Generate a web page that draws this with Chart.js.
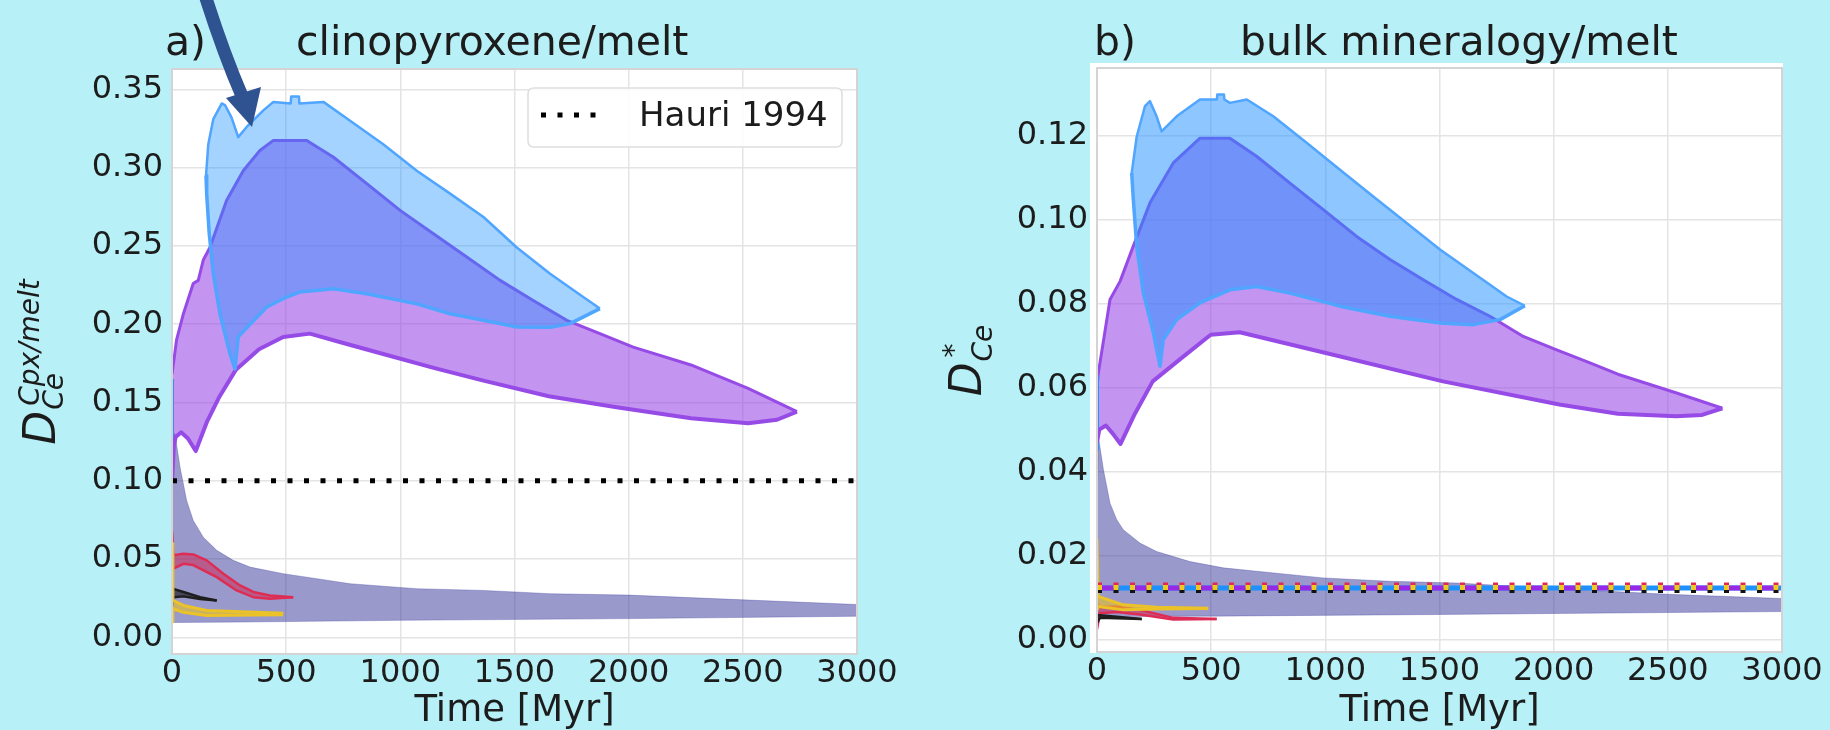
<!DOCTYPE html>
<html><head><meta charset="utf-8">
<script src="https://cdn.jsdelivr.net/npm/chart.js@4.4.1/dist/chart.umd.min.js"></script>
<style>
html,body{margin:0;padding:0;background:#b7f0f6;}
#wrap{position:relative;width:1830px;height:730px;overflow:hidden;background:#b7f0f6;}
.panel{position:absolute;top:0;width:915px;height:730px;}
canvas{display:block;}
</style></head><body>
<div id="wrap">
<div class="panel" style="left:0"><canvas id="ca" width="915" height="730"></canvas></div>
<div class="panel" style="left:915px"><canvas id="cb" width="915" height="730"></canvas></div>
</div>
<script>
// ---------- tick labels ----------
const timeTicks = [0, 500, 1000, 1500, 2000, 2500, 3000];
const cpxTicks = [0, 0.05, 0.10, 0.15, 0.20, 0.25, 0.30, 0.35];
const bulkTicks = [0, 0.02, 0.04, 0.06, 0.08, 0.10, 0.12];

// ---------- panel a: clinopyroxene/melt ----------
const cpxBlueUpT = [149,159,181,218,232,261,290,327,400,444,520,522,556,558,663,780,925,1072,1218,1364,1510,1656,1801,1874];
const cpxBlueUpD = [0.295,0.315,0.331,0.341,0.340,0.332,0.3195,0.326,0.3366,0.342,0.341,0.3455,0.3455,0.341,0.342,0.330,0.315,0.298,0.2834,0.2685,0.249,0.2323,0.2174,0.210];
const cpxBlueLoT = [149,152,163,181,210,254,276,290,342,415,502,561,706,853,1072,1218,1364,1510,1656,1743,1874];
const cpxBlueLoD = [0.295,0.283,0.258,0.232,0.2067,0.181,0.1715,0.192,0.200,0.211,0.2174,0.2206,0.2227,0.2195,0.213,0.2067,0.2025,0.1982,0.198,0.2004,0.210];
const cpxBlueStartT = [0, 0];
const cpxBlueStartD = [0.10, 0.165];

const cpxPurpUpT = [0,20,50,93,115,137,166,239,312,385,444,517,590,706,853,999,1145,1291,1437,1582,1729,1874,2020,2273,2523,2737];
const cpxPurpUpD = [0.168,0.19,0.2067,0.226,0.228,0.241,0.249,0.279,0.298,0.311,0.3174,0.3174,0.3174,0.3068,0.2898,0.2727,0.2578,0.2429,0.228,0.2152,0.2025,0.194,0.1854,0.174,0.159,0.1442];
const cpxPurpLoT = [0,8,16,40,70,104,154,205,280,381,487,604,750,925,1150,1364,1650,1947,2273,2523,2650,2737];
const cpxPurpLoD = [0.0996,0.122,0.128,0.131,0.127,0.119,0.138,0.153,0.171,0.184,0.1918,0.194,0.188,0.181,0.172,0.164,0.154,0.147,0.140,0.1367,0.139,0.1442];

const cpxGreyUpT = [0,8,13,35,64,93,137,196,268,342,487,634,780,1072,1364,1656,2000,2500,3000];
const cpxGreyUpD = [0.100,0.130,0.130,0.1088,0.0875,0.0747,0.064,0.0556,0.0492,0.0449,0.0407,0.0375,0.0343,0.0311,0.030,0.0279,0.027,0.024,0.021];
const cpxGreyLoT = [0,300,1000,2000,3000];
const cpxGreyLoD = [0.0095,0.0098,0.0109,0.012,0.0135];

const cpxRedUpT = [0,6,50,93,152,225,298,356,429,531];
const cpxRedUpD = [0.068,0.0524,0.0534,0.053,0.0492,0.0407,0.0332,0.029,0.0268,0.0257];
const cpxRedLoT = [0,6,50,93,196,283,356,429,531];
const cpxRedLoD = [0.043,0.0439,0.047,0.0462,0.0385,0.030,0.0257,0.0247,0.0257];

const cpxBlackUpT = [0,6,50,123,196];
const cpxBlackUpD = [0.033,0.031,0.029,0.0257,0.0236];
const cpxBlackLoT = [0,6,50,123,196];
const cpxBlackLoD = [0.020,0.0257,0.0262,0.0245,0.0236];

const cpxYellowUpT = [0,4,50,152,487];
const cpxYellowUpD = [0.060,0.0236,0.0204,0.0172,0.0155];
const cpxYellowLoT = [0,4,50,152,487];
const cpxYellowLoD = [0.010,0.0183,0.016,0.014,0.0145];

const hauriT = [0, 3000];
const hauriD = [0.10, 0.10];

// ---------- panel b: bulk mineralogy/melt ----------
const bulkBlueUpT = [152,174,210,232,261,283,349,451,525,527,556,558,582,656,772,918,1064,1210,1356,1502,1648,1794,1874];
const bulkBlueUpD = [0.1111,0.1198,0.127,0.1282,0.1246,0.121,0.1246,0.1286,0.1286,0.1298,0.1298,0.1286,0.1278,0.1286,0.1246,0.1183,0.1119,0.1055,0.0992,0.0929,0.0873,0.0817,0.0795];
const bulkBlueLoT = [152,159,174,203,247,276,290,349,451,582,699,845,1064,1283,1502,1648,1765,1874];
const bulkBlueLoD = [0.1111,0.1048,0.0936,0.0825,0.073,0.0651,0.0714,0.0762,0.0802,0.0833,0.0841,0.0825,0.0794,0.077,0.0754,0.075,0.0762,0.0795];
const bulkBlueStartT = [0, 0];
const bulkBlueStartD = [0.045, 0.063];

const bulkPurpUpT = [0,6,57,101,159,232,334,451,582,699,845,991,1137,1283,1429,1575,1721,1867,2013,2159,2281,2535,2739];
const bulkPurpUpD = [0.060,0.0635,0.081,0.0853,0.0937,0.104,0.1135,0.1194,0.1194,0.1151,0.1087,0.1024,0.096,0.0905,0.0857,0.081,0.077,0.0722,0.069,0.0659,0.0632,0.0588,0.0551];
const bulkPurpLoT = [0,10,39,70,103,166,244,371,498,625,1007,1515,2025,2281,2535,2650,2739];
const bulkPurpLoD = [0.047,0.050,0.051,0.049,0.0466,0.0538,0.0615,0.0671,0.0726,0.0732,0.0682,0.0615,0.056,0.0538,0.0532,0.0535,0.0551];

const bulkGreyUpT = [0,6,28,57,86,115,188,261,407,553,699,991,1283,1575,2000,2500,3000];
const bulkGreyUpD = [0.030,0.0484,0.0405,0.0325,0.0286,0.0262,0.023,0.021,0.0186,0.0171,0.0163,0.0147,0.0139,0.0135,0.0122,0.0108,0.0098];
const bulkGreyLoT = [0,10,500,1500,3000];
const bulkGreyLoD = [0.004,0.0055,0.0056,0.006,0.0067];

const bulkRedUpT = [0,13,86,188,334,524];
const bulkRedUpD = [0.0085,0.0078,0.0079,0.0071,0.0052,0.0049];
const bulkRedLoT = [0,13,86,188,334,524];
const bulkRedLoD = [0.0025,0.0063,0.0066,0.006,0.0048,0.0049];

const bulkBlackUpT = [0,13,196];
const bulkBlackUpD = [0.0058,0.0058,0.0049];
const bulkBlackLoT = [0,13,196];
const bulkBlackLoD = [0.004,0.0052,0.0049];

const bulkYellowUpT = [0,5,115,261,487];
const bulkYellowUpD = [0.024,0.0103,0.0083,0.0077,0.0075];
const bulkYellowLoT = [0,5,115,261,487];
const bulkYellowLoD = [0.007,0.0079,0.0071,0.0073,0.0074];

// reference bulk D levels (horizontal lines)
const bulkRefT = [0, 3000];
const bulkRefBlue = [0.0123, 0.0123];
const bulkRefPurple = [0.0123, 0.0123];
const bulkRefRed = [0.0130, 0.0130];
const bulkRefYellow = [0.01243, 0.01243];
const bulkRefBlack = [0.01174, 0.01174];

// ---------- helpers ----------
const P = (T, D) => T.map((t, i) => ({x: t, y: D[i]}));
function band(upT, upD, loT, loD, fillC, edgeC, wUp, wLo, order) {
  return [
    {data: P(upT, upD), borderColor: edgeC, borderWidth: wUp, backgroundColor: fillC, fill: '+1', order: order},
    {data: P(loT, loD), borderColor: edgeC, borderWidth: wLo, backgroundColor: fillC, fill: false, order: order - 0.5}
  ];
}
function hline(T, D, color, w, dash, order) {
  return {data: P(T, D), borderColor: color, borderWidth: w, borderDash: dash, borderCapStyle: 'butt', fill: false, order: order};
}

const C = {
  blueEdge: 'rgb(80,165,255)', purpEdge: 'rgb(150,75,230)', purpFill: 'rgba(148,60,230,0.55)',
  grey: 'rgba(51,51,153,0.5)', redEdge: 'rgb(222,45,85)', redFill: 'rgba(220,20,60,0.45)',
  blackEdge: '#1e1e1e', blackFill: 'rgba(20,20,20,0.6)', yelEdge: 'rgb(235,195,40)', yelFill: 'rgba(235,195,30,0.6)'
};
const TXT = '#1c1c1c';
Chart.defaults.font.family = '"DejaVu Sans", sans-serif';

function drawYLabel(ctx, x, yc, sub, sup, subDy, supDy) {
  ctx.save();
  ctx.fillStyle = TXT; ctx.textAlign = 'left'; ctx.textBaseline = 'alphabetic';
  ctx.font = 'italic 44px "DejaVu Sans"';
  const wD = ctx.measureText('D').width;
  ctx.font = 'italic 28px "DejaVu Sans"';
  const wS = Math.max(ctx.measureText(sub).width, ctx.measureText(sup).width + 4);
  const total = wD + 2 + wS;
  ctx.translate(x, yc + total / 2);
  ctx.rotate(-Math.PI / 2);
  ctx.font = 'italic 44px "DejaVu Sans"';
  ctx.fillText('D', 0, 0);
  ctx.font = 'italic 28px "DejaVu Sans"';
  ctx.fillText(sub, wD + 1, subDy);
  ctx.fillText(sup, wD + 5, supDy);
  ctx.restore();
}

function decor(o) {
  return {
    id: 'decor',
    beforeDraw(chart) {
      const {ctx, chartArea: a} = chart;
      ctx.save();
      ctx.fillStyle = '#ffffff';
      if (o.whiteRect) ctx.fillRect(o.whiteRect[0], o.whiteRect[1], o.whiteRect[2], o.whiteRect[3]);
      ctx.fillRect(a.left, a.top, a.right - a.left, a.bottom - a.top);
      ctx.restore();
    },
    afterDraw(chart) {
      const {ctx, chartArea: a} = chart;
      ctx.save();
      ctx.strokeStyle = '#d4d4d4'; ctx.lineWidth = 2;
      ctx.strokeRect(a.left, a.top, a.right - a.left, a.bottom - a.top);
      ctx.fillStyle = TXT; ctx.textAlign = 'left'; ctx.textBaseline = 'alphabetic';
      ctx.font = '41px "DejaVu Sans"';
      ctx.fillText(o.tag, o.tagX, 55);
      ctx.fillText(o.title, o.titleX, 55);
      ctx.restore();
      drawYLabel(ctx, o.ylabX, (a.top + a.bottom) / 2, o.sub, o.sup, o.subDy, o.supDy);
      if (o.extra) o.extra(ctx, chart);
    }
  };
}

function makeChart(id, datasets, cfg, deco) {
  return new Chart(document.getElementById(id), {
    type: 'line',
    data: {datasets: datasets},
    options: {
      responsive: false, animation: false, devicePixelRatio: 1,
      layout: {padding: {left: 0, top: cfg.top, right: cfg.right, bottom: 0}},
      plugins: {legend: {display: false}, tooltip: {enabled: false}, title: {display: false}},
      elements: {point: {radius: 0, hoverRadius: 0}, line: {tension: 0, borderJoinStyle: 'round'}},
      events: [],
      scales: {
        x: {
          type: 'linear', min: 0, max: 3000,
          afterBuildTicks: ax => { ax.ticks = timeTicks.map(v => ({value: v})); },
          afterFit: ax => { ax.height = cfg.xh; },
          grid: {color: '#e4e4e4', lineWidth: 1.5, drawTicks: false},
          border: {display: false},
          ticks: {font: {size: 32}, color: TXT, padding: 0, maxRotation: 0, autoSkip: false, callback: v => String(v)},
          title: {display: true, text: 'Time [Myr]', font: {size: 37, lineHeight: 1.0}, color: TXT, padding: {top: 0, bottom: 0}}
        },
        y: {
          type: 'linear', min: cfg.ymin, max: cfg.ymax,
          afterBuildTicks: ax => { ax.ticks = cfg.yticks.map(v => ({value: v})); },
          afterFit: ax => { ax.width = cfg.yw; },
          grid: {color: '#e4e4e4', lineWidth: 1.5, drawTicks: false},
          border: {display: false},
          ticks: {font: {size: 32}, color: TXT, padding: 9, autoSkip: false, callback: v => v.toFixed(2)}
        }
      }
    },
    plugins: [decor(deco)]
  });
}

// ---------- panel a ----------
const dsA = [
  hline(hauriT, hauriD, '#000000', 5, [5, 11.5], 1),
  ...band(cpxYellowUpT, cpxYellowUpD, cpxYellowLoT, cpxYellowLoD, C.yelFill, C.yelEdge, 3, 3, 3),
  ...band(cpxBlackUpT, cpxBlackUpD, cpxBlackLoT, cpxBlackLoD, C.blackFill, C.blackEdge, 2.5, 2.5, 4),
  ...band(cpxRedUpT, cpxRedUpD, cpxRedLoT, cpxRedLoD, C.redFill, C.redEdge, 2.5, 2.5, 5),
  ...band(cpxBlueUpT, cpxBlueUpD, cpxBlueLoT, cpxBlueLoD, 'rgba(30,144,255,0.4)', C.blueEdge, 2.5, 3.5, 7),
  hline(cpxBlueStartT, cpxBlueStartD, 'rgb(50,140,255)', 4, [], 7.8),
  ...band(cpxPurpUpT, cpxPurpUpD, cpxPurpLoT, cpxPurpLoD, C.purpFill, C.purpEdge, 3, 4, 8),
  ...band(cpxGreyUpT, cpxGreyUpD, cpxGreyLoT, cpxGreyLoD, C.grey, 'rgba(51,51,153,0.3)', 1, 1, 9)
];
makeChart('ca', dsA,
  {top: 69, right: 58, xh: 76, yw: 172, ymin: -0.0106, ymax: 0.363, yticks: cpxTicks},
  {tag: 'a)', tagX: 165, title: 'clinopyroxene/melt', titleX: 296, ylabX: 55, sub: 'Ce', sup: 'Cpx/melt', subDy: 8, supDy: -16,
   extra: (ctx) => {
     ctx.save();
     // legend
     const x = 528, y = 88, w = 314, h = 59, r = 6;
     ctx.beginPath();
     ctx.moveTo(x + r, y); ctx.lineTo(x + w - r, y); ctx.quadraticCurveTo(x + w, y, x + w, y + r);
     ctx.lineTo(x + w, y + h - r); ctx.quadraticCurveTo(x + w, y + h, x + w - r, y + h);
     ctx.lineTo(x + r, y + h); ctx.quadraticCurveTo(x, y + h, x, y + h - r);
     ctx.lineTo(x, y + r); ctx.quadraticCurveTo(x, y, x + r, y); ctx.closePath();
     ctx.fillStyle = 'rgba(255,255,255,0.85)'; ctx.fill();
     ctx.strokeStyle = '#dedede'; ctx.lineWidth = 1.5; ctx.stroke();
     ctx.setLineDash([5, 11.5]); ctx.lineWidth = 5; ctx.strokeStyle = '#000'; ctx.lineCap = 'butt';
     ctx.beginPath(); ctx.moveTo(541, 115); ctx.lineTo(607, 115); ctx.stroke();
     ctx.setLineDash([]);
     ctx.fillStyle = TXT; ctx.font = '34px "DejaVu Sans"'; ctx.textAlign = 'left'; ctx.textBaseline = 'alphabetic';
     ctx.fillText('Hauri 1994', 639, 126);
     // annotation arrow
     ctx.strokeStyle = '#2f5290'; ctx.fillStyle = '#2f5290'; ctx.lineWidth = 13;
     ctx.beginPath(); ctx.moveTo(204, -8); ctx.quadraticCurveTo(223, 52, 242, 96); ctx.stroke();
     ctx.beginPath(); ctx.moveTo(226, 98); ctx.lineTo(261, 87); ctx.lineTo(252, 127); ctx.closePath(); ctx.fill();
     ctx.restore();
   }});

// ---------- panel b ----------
const dsB = [
  hline(bulkRefT, bulkRefYellow, 'rgb(240,200,30)', 5, [5, 11.5], 0.1),
  hline(bulkRefT, bulkRefBlack, '#111111', 5, [5, 11.5], 0.2),
  hline(bulkRefT, bulkRefRed, 'rgb(225,40,80)', 5, [5, 11.5], 0.3),
  hline(bulkRefT, bulkRefPurple, 'rgb(150,40,230)', 5, [16.5, 16.5], 0.4),
  hline(bulkRefT, bulkRefBlue, 'rgb(30,144,255)', 5, [], 0.5),
  ...band(bulkYellowUpT, bulkYellowUpD, bulkYellowLoT, bulkYellowLoD, C.yelFill, C.yelEdge, 3, 3, 3),
  ...band(bulkBlackUpT, bulkBlackUpD, bulkBlackLoT, bulkBlackLoD, C.blackFill, C.blackEdge, 2.5, 2.5, 4),
  ...band(bulkRedUpT, bulkRedUpD, bulkRedLoT, bulkRedLoD, C.redFill, C.redEdge, 2.5, 2.5, 5),
  ...band(bulkBlueUpT, bulkBlueUpD, bulkBlueLoT, bulkBlueLoD, 'rgba(30,144,255,0.5)', C.blueEdge, 2.5, 3.5, 7),
  hline(bulkBlueStartT, bulkBlueStartD, 'rgb(50,140,255)', 4, [], 7.8),
  ...band(bulkPurpUpT, bulkPurpUpD, bulkPurpLoT, bulkPurpLoD, C.purpFill, C.purpEdge, 3, 4, 8),
  ...band(bulkGreyUpT, bulkGreyUpD, bulkGreyLoT, bulkGreyLoD, C.grey, 'rgba(51,51,153,0.3)', 1, 1, 9)
];
makeChart('cb', dsB,
  {top: 68, right: 48, xh: 78, yw: 182, ymin: -0.00293, ymax: 0.1361, yticks: bulkTicks},
  {tag: 'b)', tagX: 179, title: 'bulk mineralogy/melt', titleX: 325, ylabX: 66, sub: 'Ce', sup: '*', subDy: 11, supDy: -18,
   whiteRect: [175, 63, 693, 590]});
</script>
</body></html>
